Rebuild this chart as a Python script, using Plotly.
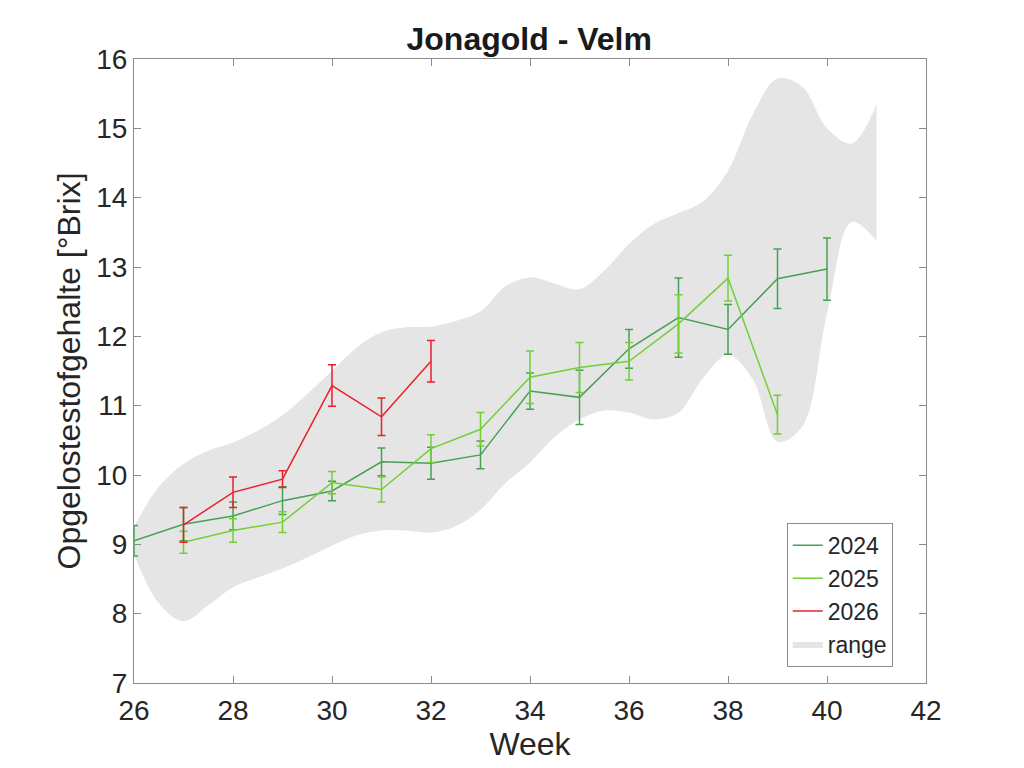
# Brix evolution plot for Jonagold - Velm
import plotly.graph_objects as go

# weekly means and error bars per season
weeks_2024 = [26, 27, 28, 29, 30, 31, 32, 33, 34, 35, 36, 37, 38, 39, 40]
brix_2024 = [9.05, 9.29, 9.41, 9.63, 9.77, 10.19, 10.17, 10.29, 11.21, 11.12, 11.82, 12.27, 12.10, 12.83, 12.97]
err_2024 = [0.22, 0.24, 0.20, 0.20, 0.14, 0.20, 0.23, 0.20, 0.26, 0.39, 0.28, 0.57, 0.36, 0.43, 0.45]

weeks_2025 = [27, 28, 29, 30, 31, 32, 33, 34, 35, 36, 37, 38, 39]
brix_2025 = [9.03, 9.20, 9.32, 9.89, 9.79, 10.38, 10.66, 11.41, 11.55, 11.64, 12.18, 12.84, 10.87]
err_2025 = [0.16, 0.17, 0.15, 0.16, 0.18, 0.20, 0.24, 0.38, 0.36, 0.27, 0.42, 0.33, 0.28]

weeks_2026 = [27, 28, 29, 30, 31, 32]
brix_2026 = [9.28, 9.75, 9.94, 11.29, 10.84, 11.64]
err_2026 = [0.25, 0.22, 0.12, 0.30, 0.27, 0.30]

# historical range (min / max envelope)
range_weeks = [26, 26.5, 27, 27.5, 28, 28.5, 29, 29.5, 30, 30.5, 31, 31.5, 32, 32.5, 33, 33.5,
               34, 34.5, 35, 35.5, 36, 36.5, 37, 37.5, 38, 38.5, 39, 39.5, 40, 40.5, 41]
range_upper = [9.25, 9.83, 10.16, 10.35, 10.47, 10.64, 10.86, 11.17, 11.50, 11.84, 12.06, 12.13,
               12.14, 12.22, 12.36, 12.72, 12.85, 12.76, 12.68, 12.95, 13.33, 13.62, 13.78, 13.95,
               14.39, 15.20, 15.72, 15.60, 15.00, 14.78, 15.35]
range_lower = [8.85, 8.15, 7.89, 8.12, 8.38, 8.52, 8.65, 8.81, 8.98, 9.13, 9.20, 9.20,
               9.17, 9.26, 9.50, 9.88, 10.18, 10.55, 10.80, 10.93, 10.90, 10.80, 10.90, 11.40,
               11.73, 11.38, 10.48, 10.70, 12.33, 13.65, 13.38]

font = "Liberation Sans, Arial, sans-serif"
gray_fill = "#e5e5e5"

fig = go.Figure()

fig.add_trace(go.Scatter(x=range_weeks, y=range_lower, mode="lines", line=dict(width=0, shape="spline"),
                         showlegend=False, hoverinfo="skip"))
fig.add_trace(go.Scatter(x=range_weeks, y=range_upper, mode="lines", line=dict(width=0, shape="spline"),
                         fill="tonexty", fillcolor=gray_fill, name="range", legendrank=4))

for rank, (name, x, y, e, col) in enumerate([("2024", weeks_2024, brix_2024, err_2024, "#45a253"),
                                             ("2025", weeks_2025, brix_2025, err_2025, "#72cf36"),
                                             ("2026", weeks_2026, brix_2026, err_2026, "#e8212b")]):
	fig.add_trace(go.Scatter(x=x, y=y, mode="lines", name=name, line=dict(color=col, width=1.5),
	                         error_y=dict(type="data", array=e, color=col, thickness=1.5, width=4),
	                         cliponaxis=False, legendrank=rank + 1))

axis_style = dict(showline=True, linecolor="#8c8c8c", linewidth=1, mirror="ticks", ticks="inside",
                  ticklen=7, tickcolor="#8c8c8c", showgrid=False, zeroline=False,
                  tickfont=dict(size=28, color="#262626"))

fig.update_layout(
	width=1024, height=768, plot_bgcolor="white", paper_bgcolor="white",
	font=dict(family=font, color="#262626"),
	margin=dict(l=126, r=106, t=51, b=93),
	title=dict(text="<b>Jonagold - Velm</b>", x=0.509, xanchor="center", y=0.96, yanchor="middle",
	           font=dict(size=32, color="#1a1a1a")),
	legend=dict(x=0.958, y=0.026, xanchor="right", yanchor="bottom", bgcolor="white", traceorder="normal",
	            bordercolor="#8c8c8c", borderwidth=1, font=dict(size=23), tracegroupgap=0),
)
fig.update_xaxes(range=[26, 42], dtick=2, ticklabelstandoff=2,
                 title=dict(text="Week", font=dict(size=32), standoff=6), **axis_style)
fig.update_yaxes(range=[7, 16], dtick=1, title=dict(text="Opgelostestofgehalte [°Brix]", font=dict(size=32), standoff=6),
                 **axis_style)

fig.write_html("out.html")
